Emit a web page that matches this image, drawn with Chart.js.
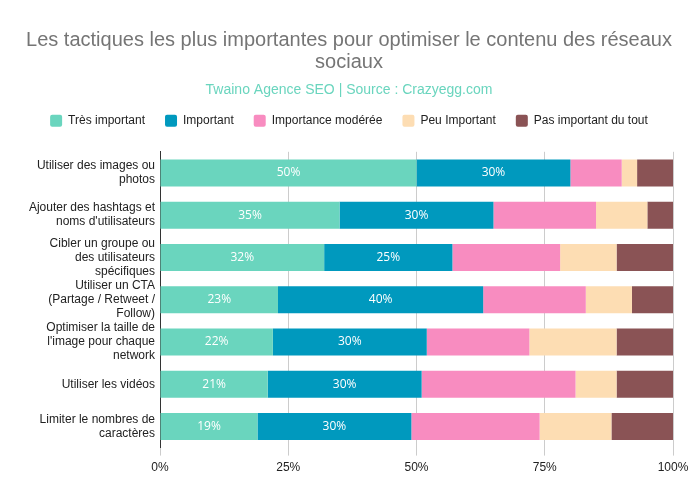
<!DOCTYPE html>
<html>
<head>
<meta charset="utf-8">
<script src="https://cdn.jsdelivr.net/npm/chart.js@4/dist/chart.umd.min.js"></script>
<style>
  html, body { margin: 0; padding: 0; background: #fff; }
  #wrap { width: 698px; height: 498px; }
</style>
</head>
<body>
<div id="wrap"><canvas id="tactiques"></canvas></div>
<script>
// Données (en %)
const categories = [
  ['Utiliser des images ou', 'photos'],
  ['Ajouter des hashtags et', "noms d'utilisateurs"],
  ['Cibler un groupe ou', 'des utilisateurs', 'spécifiques'],
  ['Utiliser un CTA', '(Partage / Retweet /', 'Follow)'],
  ['Optimiser la taille de', "l'image pour chaque", 'network'],
  ['Utiliser les vidéos'],
  ['Limiter le nombres de', 'caractères']
];
const seriesNames = ['Très important', 'Important', 'Importance modérée', 'Peu Important', 'Pas important du tout'];
const tresImportant = [50, 35, 32, 23, 22, 21, 19];
const important = [30, 30, 25, 40, 30, 30, 30];
const moderee = [10, 20, 21, 20, 20, 30, 25];
const peuImportant = [3, 10, 11, 9, 17, 8, 14];
const pasImportant = [7, 5, 11, 8, 11, 11, 12];
const xTicks = [0, 25, 50, 75, 100];

const colors = ['#6AD5BE', '#0099BE', '#F88CC0', '#FDDDB3', '#8A5355'];
const allSeries = [tresImportant, important, moderee, peuImportant, pasImportant];

// Étiquettes blanches au centre des deux premières séries
const barLabels = {
  id: 'barLabels',
  afterDatasetsDraw(chart) {
    const ctx = chart.ctx;
    ctx.save();
    ctx.font = '12px "Open Sans", sans-serif';
    ctx.fillStyle = '#ffffff';
    ctx.textAlign = 'center';
    ctx.textBaseline = 'middle';
    [0, 1].forEach(i => {
      const meta = chart.getDatasetMeta(i);
      meta.data.forEach((bar, j) => {
        const v = chart.data.datasets[i].data[j];
        const cx = (bar.x + bar.base) / 2;
        ctx.fillText(v + '%', cx, bar.y);
      });
    });
    ctx.restore();
  }
};

// Espace supplémentaire sous la légende
const legendMargin = {
  id: 'legendMargin',
  beforeInit(chart) {
    const fit = chart.legend.fit;
    chart.legend.fit = function () {
      fit.bind(chart.legend)();
      this.height += 15;
    };
  }
};

new Chart(document.getElementById('tactiques').getContext('2d'), {
  type: 'bar',
  data: {
    labels: categories,
    datasets: allSeries.map((d, i) => ({
      label: seriesNames[i],
      data: d,
      backgroundColor: colors[i],
      borderWidth: 0,
      barPercentage: 0.64,
      categoryPercentage: 1
    }))
  },
  options: {
    indexAxis: 'y',
    responsive: true,
    maintainAspectRatio: false,
    animation: false,
    layout: { padding: { left: 25, right: 25, top: 15, bottom: 18 } },
    plugins: {
      title: {
        display: true,
        text: ['Les tactiques les plus importantes pour optimiser le contenu des réseaux', 'sociaux'],
        color: '#757575',
        font: { size: 20, family: 'Liberation Sans, Arial', weight: 'normal', lineHeight: 1.1 },
        padding: { top: 14, bottom: 5 }
      },
      subtitle: {
        display: true,
        text: 'Twaino Agence SEO | Source : Crazyegg.com',
        color: '#6AD5BE',
        font: { size: 14, family: 'Liberation Sans, Arial' },
        padding: { top: 4, bottom: -4 }
      },
      legend: {
        position: 'top',
        labels: {
          boxWidth: 12,
          boxHeight: 12,
          useBorderRadius: true,
          borderRadius: 2,
          padding: 20,
          color: '#222',
          font: { size: 12, family: 'Liberation Sans, Arial' }
        }
      },
      tooltip: { enabled: false }
    },
    scales: {
      x: {
        stacked: true,
        min: 0,
        max: 100,
        afterBuildTicks: axis => { axis.ticks = xTicks.map(v => ({ value: v })); },
        ticks: {
          padding: 5,
          callback: v => v + '%',
          color: '#222',
          font: { size: 12, family: 'Liberation Sans, Arial' }
        },
        grid: { color: '#cccccc', tickLength: 8 },
        border: { display: false }
      },
      y: {
        stacked: true,
        afterFit: scale => { scale.width = 135; },
        ticks: {
          autoSkip: false,
          padding: 5,
          color: '#222',
          font: { size: 12, family: 'Liberation Sans, Arial', lineHeight: 14 / 12 }
        },
        grid: { display: false, drawTicks: false },
        border: { display: true, color: '#333' }
      }
    }
  },
  plugins: [barLabels, legendMargin]
});
</script>
</body>
</html>
